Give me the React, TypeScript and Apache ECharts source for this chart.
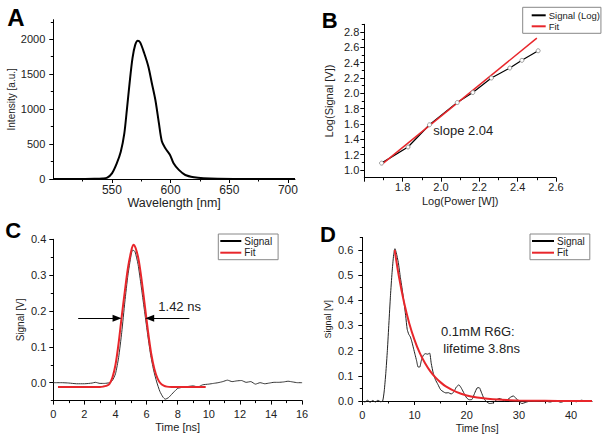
import React, { useEffect, useRef } from "react";
import * as echarts from "echarts";

// ---------- Panel A: emission spectrum ----------
const specWavelength = [500, 520, 535, 542, 546, 550, 554, 557.5, 560.5, 562.7, 565, 567.5, 569.8, 572, 574, 577.5, 581, 584, 587, 590, 592.5, 595.5, 599.5, 602.5, 607, 612.5, 620, 628, 640, 660, 706];
const specIntensity = [0, 0, 3, 8, 20, 80, 220, 390, 650, 990, 1370, 1730, 1920, 1980, 1955, 1800, 1610, 1370, 1130, 800, 540, 440, 345, 225, 130, 57, 24, 10, 2, 0, 0];
const aXLabels = [550, 600, 650, 700];
const aXMinor = [525, 575, 625, 675];
const aYLabels = [0, 500, 1000, 1500, 2000];
const aYMinor = [250, 750, 1250, 1750, 2250];

// ---------- Panel B: log-log power dependence ----------
const logPower = [1.69, 1.828, 1.94, 2.085, 2.166, 2.263, 2.359, 2.422, 2.507];
const logSignal = [1.09, 1.3, 1.59, 1.88, 2.01, 2.2, 2.33, 2.43, 2.555];
const fitLogPower = [1.69, 2.5];
const fitLogSignal = [1.07, 2.72];
const bXLabels = [1.8, 2.0, 2.2, 2.4, 2.6];
const bXTicks = [1.6, 1.8, 2.0, 2.2, 2.4, 2.6];
const bXMinor = [1.7, 1.9, 2.1, 2.3, 2.5];
const bYLabels = [1.0, 1.2, 1.4, 1.6, 1.8, 2.0, 2.2, 2.4, 2.6, 2.8];
const bYMinor = [1.1, 1.3, 1.5, 1.7, 1.9, 2.1, 2.3, 2.5, 2.7, 2.9];

// ---------- Panel C: pulse ----------
const cTime = [0, 0.5, 1, 1.5, 2, 2.5, 2.7, 3, 3.3, 3.6, 3.8, 4, 4.2, 4.4, 4.6, 4.8, 5, 5.1, 5.25, 5.45, 5.65, 5.85, 6.05, 6.25, 6.45, 6.65, 6.85, 7.05, 7.2, 7.4, 7.6, 7.8, 8, 8.3, 8.6, 9, 9.3, 9.6, 10, 10.3, 10.6, 10.9, 11.2, 11.5, 11.8, 12.1, 12.4, 12.7, 13, 13.3, 13.6, 13.9, 14.2, 14.5, 14.8, 15.1, 15.4, 15.7, 16];
const cSignal = [0, 0, -0.001, -0.003, -0.003, -0.001, 0.001, -0.002, -0.002, 0, 0.006, 0.025, 0.07, 0.14, 0.225, 0.3, 0.355, 0.37, 0.366, 0.33, 0.27, 0.205, 0.14, 0.08, 0.035, 0.002, -0.024, -0.04, -0.046, -0.042, -0.033, -0.024, -0.016, -0.013, -0.011, -0.009, -0.012, -0.006, -0.004, -0.002, 0, 0.003, 0.007, 0.003, 0.005, 0.006, 0.001, 0.003, -0.004, 0, -0.003, -0.001, 0.001, 0.001, 0.002, 0.004, 0.002, 0, 0];
const cFitTime = [0.3, 2, 3, 3.2, 3.4, 3.6, 3.8, 4, 4.2, 4.4, 4.6, 4.8, 5, 5.15, 5.3, 5.5, 5.7, 5.9, 6.1, 6.3, 6.5, 6.7, 6.9, 7.1, 7.3, 7.6, 8.5, 9.8];
const cFit = [-0.012, -0.012, -0.012, -0.011, -0.009, -0.004, 0.014, 0.05, 0.11, 0.185, 0.255, 0.32, 0.365, 0.385, 0.375, 0.34, 0.28, 0.21, 0.14, 0.08, 0.038, 0.012, -0.002, -0.008, -0.011, -0.012, -0.012, -0.012];
const cXLabels = [0, 2, 4, 6, 8, 10, 12, 14, 16];
const cXMinor = [1, 3, 5, 7, 9, 11, 13, 15];
const cYLabels = [0, 0.1, 0.2, 0.3, 0.4];
const cYMinor = [-0.05, 0.05, 0.15, 0.25, 0.35];
const fwhmLevel = 0.18;
const fwhmLeftArrow = [1.6, 4.1];
const fwhmRightArrow = [8.75, 6.2];

// ---------- Panel D: fluorescence decay ----------
const dTime = [0, 0.5, 1, 1.5, 2, 2.5, 3, 3.5, 3.9, 4.2, 4.5, 4.8, 5.1, 5.4, 5.7, 6, 6.25, 6.5, 6.9, 7.3, 7.6, 8, 8.3, 8.6, 8.9, 9.2, 9.5, 9.8, 10.1, 10.4, 10.7, 11, 11.3, 11.7, 12.1, 12.5, 12.9, 13.2, 13.6, 14, 14.5, 15, 15.5, 16, 16.5, 17, 17.5, 18, 18.5, 19, 19.5, 20, 20.5, 21, 21.5, 22, 22.4, 22.8, 23.3, 23.8, 24.4, 25, 25.6, 26.2, 26.7, 27.2, 27.8, 28.4, 28.9, 29.4, 30, 30.6, 31.2, 31.8, 32.5, 33.2, 34, 35, 36, 37, 38, 39, 40, 41, 42, 43, 44];
const dSignal = [0, -0.004, 0.003, -0.005, 0.002, -0.004, 0.003, -0.003, 0, 0.04, 0.11, 0.2, 0.31, 0.42, 0.51, 0.58, 0.605, 0.59, 0.55, 0.49, 0.45, 0.39, 0.34, 0.285, 0.265, 0.255, 0.235, 0.21, 0.185, 0.16, 0.135, 0.135, 0.16, 0.182, 0.188, 0.186, 0.19, 0.15, 0.11, 0.085, 0.065, 0.045, 0.037, 0.032, 0.033, 0.028, 0.035, 0.055, 0.064, 0.05, 0.03, 0.012, 0.005, 0.006, 0.03, 0.052, 0.053, 0.035, 0.01, -0.003, -0.01, -0.008, 0.003, 0.01, 0.007, 0, 0.005, 0.015, 0.02, 0.012, -0.002, -0.01, -0.006, -0.002, 0, -0.002, 0.001, 0, -0.004, 0.002, -0.005, 0.001, 0.002, -0.003, 0.003, -0.002, 0];
const dFitTime = [6.2, 7, 8, 9, 10, 11, 12, 13, 14, 15, 16, 18, 20, 22, 24, 26, 28, 30, 35, 40, 44];
const dFit = [0.6, 0.496, 0.391, 0.308, 0.243, 0.191, 0.151, 0.119, 0.094, 0.074, 0.058, 0.036, 0.022, 0.014, 0.009, 0.0055, 0.0035, 0.002, 0.001, 0, 0];
const dXLabels = [0, 10, 20, 30, 40];
const dXMinor = [5, 15, 25, 35];
const dYLabels = [0, 0.1, 0.2, 0.3, 0.4, 0.5, 0.6];
const dYMinor = [0.05, 0.15, 0.25, 0.35, 0.45, 0.55, 0.65];

const FONT = "'Liberation Sans', Arial, Helvetica, sans-serif";
const RED = "#e8262b";
const TXT = "#222";

const pairs = (xs: number[], ys: number[]) => xs.map((x, i) => [x, ys[i]]);

type AxisCfg = {
  grid: number;
  min: number;
  max: number;
  ticks: number[];
  labels: number[];
  minor: number[];
  dec: number;
  name: string;
  nameGap: number;
  nameSize: number;
  labelSize: number;
  margin: number;
};

function majorAxis(dim: "x" | "y", c: AxisCfg) {
  return {
    type: "value",
    gridIndex: c.grid,
    min: c.min,
    max: c.max,
    position: dim === "x" ? "bottom" : "left",
    axisLine: { show: true, onZero: false, lineStyle: { color: "#000", width: 1 } },
    axisTick: { show: true, customValues: c.ticks, length: 4, inside: false, lineStyle: { color: "#000", width: 1 } },
    axisLabel: {
      show: true,
      customValues: c.labels,
      formatter: (v: number) => v.toFixed(c.dec),
      margin: c.margin,
      fontSize: c.labelSize,
      color: TXT,
      fontFamily: FONT,
    },
    splitLine: { show: false },
    name: c.name,
    nameLocation: "middle",
    nameGap: c.nameGap,
    nameTextStyle: { fontSize: c.nameSize, color: TXT, fontFamily: FONT },
  };
}

function minorAxis(dim: "x" | "y", c: AxisCfg) {
  return {
    type: "value",
    gridIndex: c.grid,
    min: c.min,
    max: c.max,
    position: dim === "x" ? "bottom" : "left",
    axisLine: { show: false, onZero: false },
    axisTick: { show: true, customValues: c.minor, length: 2.5, inside: false, lineStyle: { color: "#000", width: 1 } },
    axisLabel: { show: false },
    splitLine: { show: false },
  };
}

const xCfgs: AxisCfg[] = [
  { grid: 0, min: 500, max: 706, ticks: aXLabels, labels: aXLabels, minor: aXMinor, dec: 0, name: "Wavelength [nm]", nameGap: 16, nameSize: 12.5, labelSize: 12, margin: 5 },
  { grid: 1, min: 1.6, max: 2.6, ticks: bXTicks, labels: bXLabels, minor: bXMinor, dec: 1, name: "Log(Power [W])", nameGap: 18, nameSize: 11, labelSize: 11, margin: 4 },
  { grid: 2, min: 0, max: 16, ticks: cXLabels, labels: cXLabels, minor: cXMinor, dec: 0, name: "Time [ns]", nameGap: 21, nameSize: 11, labelSize: 11, margin: 8 },
  { grid: 3, min: 0, max: 44, ticks: dXLabels, labels: dXLabels, minor: dXMinor, dec: 0, name: "Time [ns]", nameGap: 21, nameSize: 10.5, labelSize: 11, margin: 8 },
];
const yCfgs: AxisCfg[] = [
  { grid: 0, min: 0, max: 2280, ticks: aYLabels, labels: aYLabels, minor: aYMinor, dec: 0, name: "Intensity [a.u.]", nameGap: 33, nameSize: 10, labelSize: 11, margin: 8 },
  { grid: 1, min: 0.9, max: 2.9, ticks: bYLabels, labels: bYLabels, minor: bYMinor, dec: 1, name: "Log(Signal [V])", nameGap: 30, nameSize: 11, labelSize: 11, margin: 5 },
  { grid: 2, min: -0.05, max: 0.4, ticks: cYLabels, labels: cYLabels, minor: cYMinor, dec: 1, name: "Signal [V]", nameGap: 28, nameSize: 10, labelSize: 11, margin: 7 },
  { grid: 3, min: 0, max: 0.65, ticks: dYLabels, labels: dYLabels, minor: dYMinor, dec: 1, name: "Signal [V]", nameGap: 30, nameSize: 9, labelSize: 11, margin: 9 },
];

const legendBase = {
  orient: "vertical",
  selectedMode: false,
  borderColor: "#888",
  borderWidth: 1,
  borderRadius: 0,
  itemHeight: 2,
  icon: "rect",
  textStyle: { fontSize: 10, color: TXT, fontFamily: FONT, padding: [0, 0, 0, -2] },
};

const panelLetter = (text: string, x: number, y: number, size: number) => ({
  type: "text",
  x,
  y,
  style: { text, font: `bold ${size}px ${FONT}`, fill: "#000", align: "center", verticalAlign: "middle" },
});
const note = (text: string, x: number, y: number) => ({
  type: "text",
  x,
  y,
  style: { text, font: `13px ${FONT}`, fill: TXT, align: "left", verticalAlign: "middle" },
});

const option = {
  animation: false,
  backgroundColor: "#fff",
  grid: [
    { left: 53.3, top: 19.7, width: 241.7, height: 159.3, outerBoundsMode: "none" },
    { left: 364.3, top: 24.3, width: 191.7, height: 153.4, outerBoundsMode: "none" },
    { left: 53.3, top: 239.3, width: 248.8, height: 161.3, outerBoundsMode: "none" },
    { left: 362.3, top: 237.4, width: 229.7, height: 163.6, outerBoundsMode: "none" },
  ],
  xAxis: [...xCfgs.map((c) => majorAxis("x", c)), ...xCfgs.map((c) => minorAxis("x", c))],
  yAxis: [...yCfgs.map((c) => majorAxis("y", c)), ...yCfgs.map((c) => minorAxis("y", c))],
  legend: [
    {
      ...legendBase,
      left: 522.7,
      top: 7.3,
      itemWidth: 14,
      itemGap: 1,
      padding: [3, 1, 2, 9],
      textStyle: { ...legendBase.textStyle, fontSize: 9.5 },
      data: [
        { name: "Signal (Log)", itemStyle: { color: "#000", borderWidth: 0 } },
        { name: "Fit", itemStyle: { color: RED, borderWidth: 0 } },
      ],
    },
    {
      ...legendBase,
      left: 218.3,
      top: 234,
      itemWidth: 21,
      itemGap: 1.7,
      padding: [2, 6, 2, 2],
      data: [
        { name: "Signal", itemStyle: { color: "#000", borderWidth: 0 } },
        { name: "Fit", itemStyle: { color: RED, borderWidth: 0 } },
      ],
    },
    {
      ...legendBase,
      left: 530,
      top: 234,
      itemWidth: 22,
      itemGap: 1.7,
      padding: [2, 5, 2, 2],
      data: [
        { name: "Signal", itemStyle: { color: "#000", borderWidth: 0 } },
        { name: "Fit", itemStyle: { color: RED, borderWidth: 0 } },
      ],
    },
  ],
  series: [
    {
      name: "Spectrum",
      type: "line",
      xAxisIndex: 0,
      yAxisIndex: 0,
      data: pairs(specWavelength, specIntensity),
      smooth: 0.3,
      showSymbol: false,
      lineStyle: { color: "#000", width: 2 },
      itemStyle: { color: "#000" },
    },
    {
      name: "Signal (Log)",
      type: "line",
      xAxisIndex: 1,
      yAxisIndex: 1,
      data: pairs(logPower, logSignal),
      showSymbol: true,
      symbol: "circle",
      symbolSize: 4,
      lineStyle: { color: "#000", width: 1.2 },
      itemStyle: { color: "#fff", borderColor: "#999", borderWidth: 1 },
    },
    {
      name: "Fit",
      type: "line",
      xAxisIndex: 1,
      yAxisIndex: 1,
      data: pairs(fitLogPower, fitLogSignal),
      showSymbol: false,
      lineStyle: { color: RED, width: 1.5 },
      itemStyle: { color: RED },
    },
    {
      name: "Signal",
      type: "line",
      xAxisIndex: 2,
      yAxisIndex: 2,
      data: pairs(cTime, cSignal),
      smooth: 0.2,
      showSymbol: false,
      lineStyle: { color: "#333", width: 1 },
      itemStyle: { color: "#000" },
      markLine: {
        silent: true,
        symbol: ["none", "triangle"],
        symbolSize: [7, 9],
        label: { show: false },
        lineStyle: { color: "#000", width: 1, type: "solid" },
        itemStyle: { color: "#000" },
        data: [
          [{ coord: [fwhmLeftArrow[0], fwhmLevel] }, { coord: [fwhmLeftArrow[1], fwhmLevel] }],
          [{ coord: [fwhmRightArrow[0], fwhmLevel] }, { coord: [fwhmRightArrow[1], fwhmLevel] }],
        ],
      },
    },
    {
      name: "Fit",
      type: "line",
      xAxisIndex: 2,
      yAxisIndex: 2,
      data: pairs(cFitTime, cFit),
      smooth: 0.3,
      showSymbol: false,
      lineStyle: { color: RED, width: 2 },
      itemStyle: { color: RED },
    },
    {
      name: "Signal",
      type: "line",
      xAxisIndex: 3,
      yAxisIndex: 3,
      data: pairs(dTime, dSignal),
      smooth: 0.2,
      clip: false,
      showSymbol: false,
      lineStyle: { color: "#222", width: 1 },
      itemStyle: { color: "#000" },
    },
    {
      name: "Fit",
      type: "line",
      xAxisIndex: 3,
      yAxisIndex: 3,
      data: pairs(dFitTime, dFit),
      smooth: 0.3,
      showSymbol: false,
      lineStyle: { color: RED, width: 2 },
      itemStyle: { color: RED },
    },
  ],
  graphic: [
    panelLetter("A", 16, 17, 24),
    panelLetter("B", 329.7, 20.8, 22),
    panelLetter("C", 13.3, 230.5, 22),
    panelLetter("D", 328, 234, 22),
    note("slope 2.04", 433.3, 130),
    note("1.42 ns", 158.3, 306),
    note("0.1mM R6G:", 441, 331.7),
    note("lifetime 3.8ns", 443.3, 348.3),
  ],
};

export default function App() {
  const ref = useRef<HTMLDivElement>(null);
  useEffect(() => {
    if (!ref.current) return;
    const chart = echarts.init(ref.current, null, { renderer: "svg" });
    chart.setOption(option as any);
    return () => chart.dispose();
  }, []);
  return (
    <div
      ref={ref}
      style={{ position: "fixed", left: 0, top: 0, width: 611, height: 444, background: "#fff" }}
    />
  );
}
